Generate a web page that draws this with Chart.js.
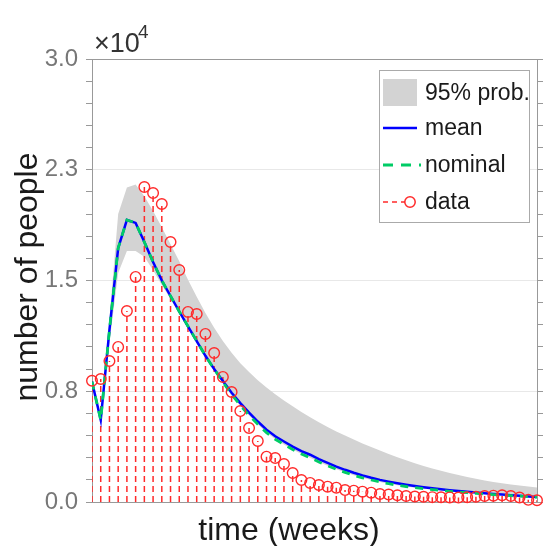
<!DOCTYPE html>
<html><head><meta charset="utf-8">
<script src="https://cdn.jsdelivr.net/npm/chart.js@4/dist/chart.umd.min.js"></script>
<style>html,body{margin:0;padding:0;background:#fff;}#wrap{width:545px;height:546px;}</style>
</head><body><div id="wrap"><canvas id="c" width="545" height="546"></canvas></div>
<script>
const weeks = [0,1,2,3,4,5,6,7,8,9,10,11,12,13,14,15,16,17,18,19,20,21,22,23,24,25,26,27,28,29,30,31,32,33,34,35,36,37,38,39,40,41,42,43,44,45,46,47,48,49,50,51];
const observed = [8210,8330,9550,10500,12930,15240,21330,20920,20180,17600,15710,12870,12730,11380,10090,8470,7450,6160,5010,4130,3070,2980,2570,1960,1490,1290,1150,1040,970,810,770,700,630,540,500,450,400,370,350,330,320,310,300,320,350,400,430,450,400,300,150,120];
const meanVals = [8150,5550,11650,17200,19100,18900,17600,16250,15000,13950,12900,11900,10900,9900,9000,8200,7400,6700,6050,5450,4900,4450,4100,3750,3450,3200,2900,2650,2400,2180,1980,1800,1640,1500,1380,1270,1170,1080,1000,930,860,800,740,690,640,590,545,500,460,420,380,340];
const nominalVals = [8150,5550,11650,17200,19100,18900,17600,16250,15000,13950,12900,11900,10900,9900,9000,8120,7280,6550,5870,5260,4700,4250,3900,3550,3250,3000,2710,2460,2220,2010,1810,1640,1490,1360,1240,1140,1050,970,900,840,780,725,675,630,585,545,505,465,430,395,360,325];
const upperVals = [8300,5800,12400,19500,21300,21500,20700,19700,18600,17450,16300,15050,13900,12800,11800,10900,10100,9400,8800,8250,7750,7300,6880,6480,6100,5740,5400,5080,4780,4500,4230,3970,3720,3480,3250,3030,2820,2620,2440,2270,2110,1960,1820,1690,1570,1460,1360,1270,1190,1110,1050,990];
const lowerVals = [7900,5300,10800,15500,17000,17000,16600,15700,14700,13750,12750,11750,10750,9800,8900,8100,7200,6500,5850,5250,4700,4250,3900,3550,3250,3000,2710,2460,2220,2010,1810,1640,1490,1360,1240,1140,1050,970,900,840,780,725,675,630,585,545,505,465,430,395,360,325];
const yTickLabels = ['0.0','0.8','1.5','2.3','3.0'];
const legendLabels = ['95% prob.','mean','nominal','data'];

const pts = arr => weeks.map((w,i)=>({x:w,y:arr[i]}));
const stemPts = [];
weeks.forEach((w,i)=>{ stemPts.push({x:w,y:0},{x:w,y:observed[i]},{x:w,y:null}); });

const RED='#ff2a2a', BLUE='#0000ff', GREEN='#00cc66', BAND='#d3d3d3';

const overlay = {
  id:'overlay',
  afterDraw(chart){
    const ctx=chart.ctx;
    ctx.save();
    ctx.fillStyle='#333';
    ctx.textBaseline='alphabetic'; ctx.textAlign='left';
    ctx.font='27px "Liberation Sans", Arial, sans-serif';
    ctx.fillText('\u00d710',94,52);
    ctx.font='19px "Liberation Sans", Arial, sans-serif';
    ctx.fillText('4',138,38);
    ctx.fillStyle='#1a1a1a';
    ctx.font='32px "Liberation Sans", Arial, sans-serif';
    ctx.textAlign='center';
    ctx.fillText('time (weeks)',289,540);
    ctx.save();
    ctx.translate(37,277); ctx.rotate(-Math.PI/2);
    ctx.fillText('number of people',0,0);
    ctx.restore();
    const bx=379, by=70, bw=150, bh=152;
    ctx.fillStyle='#fff'; ctx.fillRect(bx,by,bw,bh);
    ctx.strokeStyle='#aaa'; ctx.lineWidth=1; ctx.strokeRect(bx+0.5,by+0.5,bw,bh);
    const rows=[93,128,165,202];
    ctx.fillStyle=BAND; ctx.fillRect(383,79,34,27);
    ctx.strokeStyle=BLUE; ctx.lineWidth=2.5; ctx.beginPath(); ctx.moveTo(383,rows[1]); ctx.lineTo(417,rows[1]); ctx.stroke();
    ctx.strokeStyle=GREEN; ctx.lineWidth=3; ctx.setLineDash([10,8]); ctx.beginPath(); ctx.moveTo(383,rows[2]); ctx.lineTo(421,rows[2]); ctx.stroke();
    ctx.strokeStyle=RED; ctx.lineWidth=1.5; ctx.setLineDash([5,4]); ctx.beginPath(); ctx.moveTo(383,rows[3]); ctx.lineTo(405,rows[3]); ctx.stroke();
    ctx.setLineDash([]); ctx.beginPath(); ctx.arc(410,rows[3],5.2,0,Math.PI*2); ctx.stroke();
    ctx.fillStyle='#1a1a1a'; ctx.textAlign='left'; ctx.textBaseline='middle';
    ctx.font='23px "Liberation Sans", Arial, sans-serif';
    legendLabels.forEach((t,i)=>ctx.fillText(t,425,rows[i]+1));
    ctx.restore();
  }
};

new Chart(document.getElementById('c'),{
  type:'line',
  data:{datasets:[
    {label:'lower',data:pts(lowerVals),borderWidth:0,pointRadius:0,fill:false,order:5,borderColor:'rgba(0,0,0,0)'},
    {label:'95% prob.',data:pts(upperVals),borderWidth:0,pointRadius:0,fill:'-1',backgroundColor:BAND,borderColor:'rgba(0,0,0,0)',order:4},
    {label:'stems',data:stemPts,borderColor:RED,borderWidth:1.5,borderDash:[6,4],pointRadius:0,spanGaps:false,fill:false,order:3},
    {label:'mean',data:pts(meanVals),borderColor:BLUE,borderWidth:2.5,pointRadius:0,fill:false,order:2},
    {label:'nominal',data:pts(nominalVals),borderColor:GREEN,borderWidth:2.8,borderDash:[8,7],pointRadius:0,fill:false,order:1},
    {label:'data',data:pts(observed),showLine:false,pointRadius:5.3,pointStyle:'circle',pointBorderColor:RED,pointBackgroundColor:'rgba(0,0,0,0)',pointBorderWidth:1.4,order:0,clip:false}
  ]},
  options:{
    responsive:false, animation:false, devicePixelRatio:1,
    layout:{padding:{top:59,left:0,right:0,bottom:0}},
    plugins:{legend:{display:false},tooltip:{enabled:false}},
    scales:{
      x:{type:'linear',min:0,max:51,ticks:{display:false},grid:{display:false},border:{display:true,color:'#999',width:1},afterFit(s){s.height=44;}},
      x2:{type:'linear',position:'top',min:0,max:51,ticks:{display:false},grid:{display:false},border:{display:true,color:'#999',width:1},afterFit(s){s.height=0;}},
      y:{type:'linear',position:'left',min:0,max:30000,
        ticks:{stepSize:1500,autoSkip:false,padding:8,color:'#777',font:{family:'"Liberation Sans", Arial, sans-serif',size:24},
          callback(v){return v%7500===0?yTickLabels[v/7500]:'';}},
        grid:{color(c){const v=c.tick&&c.tick.value;return (v%7500===0&&v>0&&v<30000)?'#e8e8e8':'rgba(0,0,0,0)';},tickColor:'#999',tickLength:6,drawTicks:true},
        border:{display:true,color:'#999',width:1},
        afterFit(s){s.width=92;}},
      y2:{type:'linear',position:'right',min:0,max:30000,
        ticks:{stepSize:1500,autoSkip:false,display:false},
        grid:{drawOnChartArea:false,tickColor:'#999',tickLength:6,drawTicks:true},
        border:{display:true,color:'#999',width:1},
        afterFit(s){s.width=8;}}
    }
  },
  plugins:[overlay]
});
</script></body></html>
